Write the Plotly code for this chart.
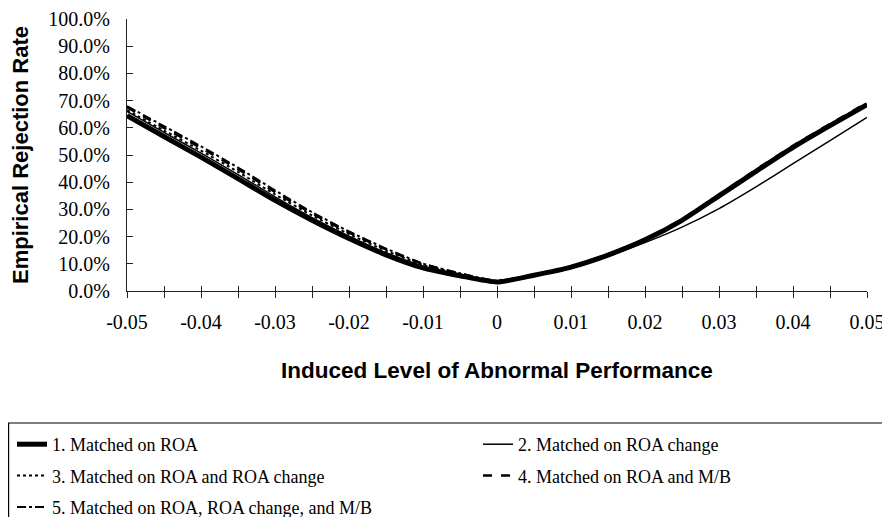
import plotly.graph_objects as go

# ---- data ----
x_levels = [-0.05, -0.045, -0.04, -0.035, -0.03, -0.025, -0.02, -0.015, -0.01, -0.005, 0.0,
            0.005, 0.01, 0.015, 0.02, 0.025, 0.03, 0.035, 0.04, 0.045, 0.05]

s1_roa = [0.645, 0.568, 0.492, 0.413, 0.333, 0.260, 0.193, 0.133, 0.085, 0.056, 0.033,
          0.058, 0.088, 0.132, 0.188, 0.260, 0.350, 0.440, 0.528, 0.608, 0.685]
s2_roa_chg = [0.660, 0.583, 0.507, 0.428, 0.346, 0.270, 0.202, 0.141, 0.091, 0.059, 0.035,
              0.056, 0.085, 0.128, 0.178, 0.235, 0.303, 0.383, 0.468, 0.553, 0.638]
s3_roa_roachg = [0.665, 0.590, 0.516, 0.438, 0.355, 0.278, 0.209, 0.148, 0.096, 0.062, 0.036,
                 0.059, 0.089, 0.134, 0.190, 0.263, 0.353, 0.444, 0.532, 0.612, 0.690]
s4_roa_mb = [0.675, 0.600, 0.526, 0.448, 0.364, 0.285, 0.215, 0.153, 0.099, 0.064, 0.037,
             0.059, 0.090, 0.135, 0.191, 0.264, 0.355, 0.446, 0.534, 0.614, 0.692]
s5_all = [0.680, 0.606, 0.532, 0.454, 0.370, 0.290, 0.219, 0.156, 0.101, 0.065, 0.038,
          0.060, 0.090, 0.134, 0.190, 0.262, 0.352, 0.443, 0.531, 0.611, 0.688]

series_names = ["1. Matched on ROA", "2. Matched on ROA change",
                "3. Matched on ROA and ROA change", "4. Matched on ROA and M/B",
                "5. Matched on ROA, ROA change, and M/B"]

x_tickvals = [-0.05, -0.045, -0.04, -0.035, -0.03, -0.025, -0.02, -0.015, -0.01, -0.005, 0.0,
              0.005, 0.01, 0.015, 0.02, 0.025, 0.03, 0.035, 0.04, 0.045, 0.05]
x_ticktext = ["-0.05", "", "-0.04", "", "-0.03", "", "-0.02", "", "-0.01", "", "0",
              "", "0.01", "", "0.02", "", "0.03", "", "0.04", "", "0.05"]
y_tickvals = [0.0, 0.1, 0.2, 0.3, 0.4, 0.5, 0.6, 0.7, 0.8, 0.9, 1.0]

SERIF = "Liberation Serif, Times New Roman, serif"
SANS = "Liberation Sans, Arial, sans-serif"

# page has an 8px body margin: size the figure so the page matches 890x517
OFF = 8
W, H = 890 - OFF, 517 - OFF
L, T = 127 - OFF, 19 - OFF
PW, PH = 740, 272
R, B = W - L - PW, H - T - PH


def px_x(p):  # page px -> paper
    return (p - OFF - L) / PW


def px_y(p):
    return (T + PH - (p - OFF)) / PH


fig = go.Figure()

styles = [
    dict(width=5, dash="solid", legend="legend"),
    dict(width=1.5, dash="solid", legend="legend2"),
    dict(width=2, dash="dot", legend="legend"),
    dict(width=2.5, dash="dash", legend="legend2"),
    dict(width=2, dash="dashdot", legend="legend"),
]
data = [s1_roa, s2_roa_chg, s3_roa_roachg, s4_roa_mb, s5_all]
for i in range(5):
    st = styles[i]
    fig.add_trace(go.Scatter(
        x=x_levels, y=data[i], mode="lines", name=series_names[i],
        line=dict(color="black", width=st["width"], dash=st["dash"], shape="spline", smoothing=0.6),
        legend=st["legend"], legendgroup=f"g{i}", hoverinfo="skip",
    ))

# invisible trace on overlay axis for crossing ticks
fig.add_trace(go.Scatter(x=[x_levels[0], x_levels[-1]], y=[0, 0], xaxis="x2", yaxis="y",
                         mode="lines", line=dict(width=0), showlegend=False, hoverinfo="skip"))

fig.update_layout(
    width=W, height=H,
    margin=dict(l=L, r=R, t=T, b=B, autoexpand=False),
    paper_bgcolor="white", plot_bgcolor="white",
    showlegend=True,
    xaxis=dict(
        range=[-0.05, 0.05], showgrid=False, zeroline=False, automargin=False,
        showline=True, linecolor="#222", linewidth=1.2,
        tickmode="array", tickvals=x_tickvals, ticktext=x_ticktext,
        ticks="outside", ticklen=6, tickwidth=1.2, tickcolor="#222",
        tickfont=dict(family=SERIF, size=20, color="black"),
        ticklabelstandoff=7, ticklabeloverflow="allow",
        title=dict(text="<b>Induced Level of Abnormal Performance</b>",
                   font=dict(family=SANS, size=22.5, color="black"), standoff=30),
    ),
    xaxis2=dict(
        range=[-0.05, 0.05], overlaying="x", anchor="y", side="bottom", automargin=False,
        showgrid=False, zeroline=False, showline=False,
        tickmode="array", tickvals=x_tickvals, ticktext=["" for _ in x_tickvals],
        ticks="inside", ticklen=5, tickwidth=1.2, tickcolor="#222",
    ),
    yaxis=dict(
        range=[0, 1], showgrid=False, zeroline=False, automargin=False,
        showline=True, linecolor="#222", linewidth=1.2,
        tickmode="array", tickvals=y_tickvals, tickformat=".1%",
        ticks="inside", ticklen=6, tickwidth=1.2, tickcolor="#222",
        tickfont=dict(family=SERIF, size=20, color="black"),
        ticklabelstandoff=12, ticklabeloverflow="allow",
        title=dict(text="<b>Empirical Rejection Rate</b>",
                   font=dict(family=SANS, size=22, color="black"), standoff=25),
    ),
    legend=dict(
        x=px_x(12), y=px_y(426), xanchor="left", yanchor="top",
        orientation="v", font=dict(family=SERIF, size=18, color="black"),
        bgcolor="rgba(0,0,0,0)", borderwidth=0, tracegroupgap=5,
    ),
    legend2=dict(
        x=px_x(478), y=px_y(426), xanchor="left", yanchor="top",
        orientation="v", font=dict(family=SERIF, size=18, color="black"),
        bgcolor="rgba(0,0,0,0)", borderwidth=0, tracegroupgap=5,
    ),
    shapes=[dict(type="rect", xref="paper", yref="paper",
                 x0=px_x(8.6), x1=px_x(900),
                 y0=px_y(423), y1=px_y(530),
                 line=dict(color="black", width=1.2), fillcolor="rgba(0,0,0,0)", layer="below")],
)

fig.write_html("out.html")
